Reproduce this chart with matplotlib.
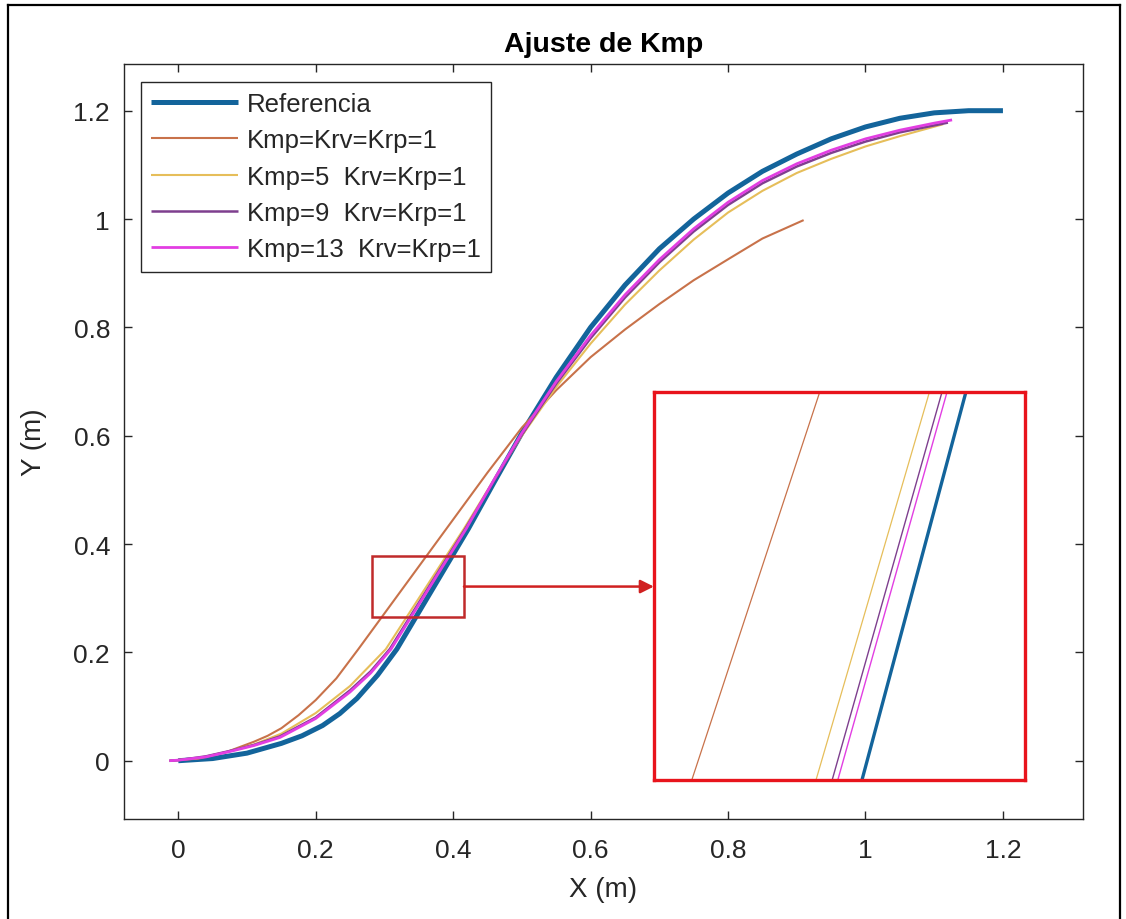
# Ajuste de Kmp - trayectorias en el plano XY
import matplotlib
matplotlib.use("Agg")
from matplotlib import pyplot as plt
from matplotlib.patches import Rectangle
from matplotlib.lines import Line2D

plt.rcParams['font.family'] = ['Liberation Sans', 'DejaVu Sans']

# datos
ref_x = [0, 0.05, 0.10, 0.15, 0.18, 0.21, 0.235, 0.26, 0.29, 0.318, 0.422, 0.46, 0.50, 0.55,
         0.60, 0.65, 0.70, 0.75, 0.80, 0.85, 0.90, 0.95, 1.00, 1.05, 1.10, 1.15, 1.20]
ref_y = [0, 0.004, 0.014, 0.032, 0.046, 0.065, 0.087, 0.115, 0.158, 0.206, 0.428, 0.515, 0.605,
         0.708, 0.800, 0.878, 0.945, 1.000, 1.048, 1.088, 1.120, 1.148, 1.170, 1.186, 1.196,
         1.200, 1.200]

k1_x = [-0.01, 0.03, 0.07, 0.11, 0.13, 0.15, 0.175, 0.20, 0.23, 0.262, 0.390, 0.45, 0.50,
        0.55, 0.60, 0.65, 0.70, 0.75, 0.803, 0.85, 0.91]
k1_y = [0, 0.004, 0.016, 0.035, 0.046, 0.060, 0.084, 0.112, 0.152, 0.206, 0.428, 0.532, 0.615,
        0.684, 0.745, 0.796, 0.843, 0.887, 0.928, 0.964, 0.998]

k5_x = [-0.013, 0.03, 0.07, 0.11, 0.15, 0.20, 0.25, 0.302, 0.4155, 0.46, 0.50, 0.55, 0.60,
        0.65, 0.70, 0.75, 0.80, 0.85, 0.90, 0.95, 1.00, 1.05, 1.113]
k5_y = [0, 0.005, 0.016, 0.030, 0.050, 0.088, 0.138, 0.206, 0.428, 0.520, 0.600, 0.690, 0.770,
        0.842, 0.905, 0.962, 1.012, 1.052, 1.085, 1.111, 1.134, 1.153, 1.175]

k9_x = [-0.013, 0.0, 0.04, 0.075, 0.11, 0.148, 0.20, 0.25, 0.28, 0.3077, 0.4176, 0.46, 0.50,
        0.55, 0.60, 0.65, 0.70, 0.75, 0.80, 0.85, 0.90, 0.95, 1.00, 1.05, 1.12]
k9_y = [0, 0.001, 0.008, 0.018, 0.029, 0.045, 0.080, 0.130, 0.165, 0.206, 0.428, 0.518, 0.602,
        0.696, 0.780, 0.855, 0.920, 0.977, 1.026, 1.066, 1.097, 1.122, 1.143, 1.160, 1.178]

k13_x = [-0.013, 0.0, 0.04, 0.075, 0.11, 0.148, 0.20, 0.25, 0.28, 0.3095, 0.4188, 0.46, 0.50,
         0.55, 0.60, 0.65, 0.70, 0.75, 0.80, 0.85, 0.90, 0.95, 1.00, 1.05, 1.10, 1.126]
k13_y = [0, 0.001, 0.007, 0.017, 0.028, 0.043, 0.078, 0.127, 0.162, 0.206, 0.428, 0.520, 0.605,
         0.700, 0.785, 0.860, 0.925, 0.982, 1.031, 1.071, 1.102, 1.127, 1.148, 1.164, 1.177, 1.183]

labels = ["Referencia", "Kmp=Krv=Krp=1", "Kmp=5  Krv=Krp=1",
          "Kmp=9  Krv=Krp=1", "Kmp=13  Krv=Krp=1"]
colors = ['#13649b', '#c8724a', '#e6be5a', '#7e3f8e', '#e23ee2']
widths = [3.6, 1.5, 1.5, 1.8, 2.0]
series = [(ref_x, ref_y), (k1_x, k1_y), (k5_x, k5_y), (k9_x, k9_y), (k13_x, k13_y)]

# zona ampliada
zoom_box = (0.2814, 0.266, 0.1343, 0.111)
inset_xlim = (0.288, 0.395)
inset_ylim = (0.270, 0.334)

# figura
fig = plt.figure(figsize=(11.26, 9.2), dpi=100)
ax = fig.add_axes([124/1126, 100/920, 959/1126, 755/920])

for (xs, ys), lab, c, w in zip(series, labels, colors, widths):
    ax.plot(xs, ys, color=c, lw=w, label=lab, solid_capstyle='butt', solid_joinstyle='round')

ax.set_xlim(-0.079, 1.3165)
ax.set_ylim(-0.1076, 1.2862)
ax.set_xticks([0, 0.2, 0.4, 0.6, 0.8, 1, 1.2])
ax.set_xticklabels(["0", "0.2", "0.4", "0.6", "0.8", "1", "1.2"])
ax.set_yticks([0, 0.2, 0.4, 0.6, 0.8, 1, 1.2])
ax.set_yticklabels(["0", "0.2", "0.4", "0.6", "0.8", "1", "1.2"])

ax.tick_params(direction='in', top=True, right=True, length=6, width=1,
               colors='#262626', labelsize=19)
ax.tick_params(axis='x', pad=14)
ax.tick_params(axis='y', pad=10)
for s in ax.spines.values():
    s.set_color('#262626')
    s.set_linewidth(1)

ax.set_xlabel("X (m)", fontsize=20, color='#262626')
ax.set_ylabel("Y (m)", fontsize=20, color='#262626')
ax.xaxis.set_label_coords(0.5, -0.075)
ax.yaxis.set_label_coords(-0.08, 0.5)
ax.set_title("Ajuste de Kmp", fontsize=20.5, fontweight='bold', pad=9)

# leyenda
leg = ax.legend(loc='upper left', bbox_to_anchor=(0.0174, 0.9766), borderaxespad=0,
                fontsize=18.5, handlelength=3.4, handletextpad=0.35, labelspacing=0.48,
                borderpad=0.4, fancybox=False, framealpha=1, edgecolor='#262626')
leg.get_frame().set_linewidth(1)
for t in leg.get_texts():
    t.set_color('#262626')

# rectangulo y flecha
ax.add_patch(Rectangle(zoom_box[:2], zoom_box[2], zoom_box[3], fill=False,
                       edgecolor='#c02a2a', lw=1.8, zorder=5))
ax.annotate("", xy=(0.692, zoom_box[1] + zoom_box[3] / 2),
            xytext=(zoom_box[0] + zoom_box[2], zoom_box[1] + zoom_box[3] / 2),
            arrowprops=dict(arrowstyle='-|>', color='#d02020', lw=1.8,
                            mutation_scale=20, shrinkA=0, shrinkB=0), zorder=5)

# grafica ampliada
axin = fig.add_axes([654/1126, 139/920, 371/1126, 388/920])
in_widths = [2.4, 0.9, 0.9, 1.0, 1.0]
for (xs, ys), c, w in zip(series, colors, in_widths):
    axin.plot(xs, ys, color=c, lw=w)
axin.set_xlim(*inset_xlim)
axin.set_ylim(*inset_ylim)
axin.set_xticks([])
axin.set_yticks([])
for s in axin.spines.values():
    s.set_color('#e8141c')
    s.set_linewidth(2.4)

# marco exterior
fig.add_artist(Line2D([8/1126, 8/1126], [0, 1 - 6/920], color='black', lw=1.6,
                      transform=fig.transFigure))
fig.add_artist(Line2D([8/1126, 1120/1126], [1 - 6/920, 1 - 6/920], color='black', lw=1.6,
                      transform=fig.transFigure))
fig.add_artist(Line2D([1120/1126, 1120/1126], [0, 1 - 6/920], color='black', lw=1.6,
                      transform=fig.transFigure))

fig.savefig("out.png", dpi=100)
